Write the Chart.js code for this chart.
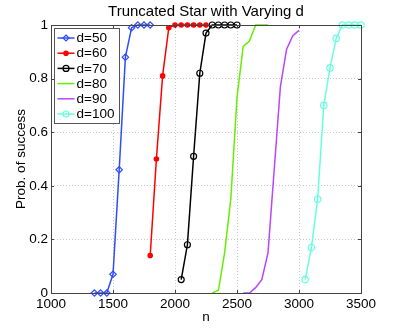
<!DOCTYPE html>
<html><head><meta charset="utf-8">
<script src="https://cdn.jsdelivr.net/npm/chart.js@4/dist/chart.umd.min.js"></script>
<style>html,body{margin:0;padding:0;background:#fff;}#wrap{width:399px;height:329px;}</style>
</head><body><div id="wrap"><canvas id="c" width="399" height="329"></canvas></div>
<script>
const chartTitle = "Truncated Star with Varying d";
const xLabel = "n";
const yLabel = "Prob. of success";
const seriesNames = ["d=50","d=60","d=70","d=80","d=90","d=100"];
const n50 = [1350,1400,1450,1500,1550,1600,1650,1700,1750,1800];
const p50 = [0,0,0,0.07,0.46,0.88,0.99,1,1,1];
const n60 = [1800,1850,1900,1950,2000,2050,2100,2150,2200,2250];
const p60 = [0.14,0.50,0.81,0.99,1,1,1,1,1,1];
const n70 = [2050,2100,2150,2200,2250,2300,2350,2400,2450,2500];
const p70 = [0.05,0.18,0.51,0.82,0.97,1,1,1,1,1];
const n80 = [2300,2350,2400,2450,2500,2550,2600,2650,2700,2750];
const p80 = [0,0.01,0.15,0.35,0.73,0.92,0.94,1,1,1];
const n90 = [2550,2600,2650,2700,2750,2800,2850,2900,2950,3000];
const p90 = [0,0,0.02,0.05,0.15,0.46,0.77,0.91,0.96,0.98];
const n100 = [3050,3100,3150,3200,3250,3300,3350,3400,3450,3500];
const p100 = [0.05,0.17,0.35,0.70,0.84,0.95,1,1,1,1];
const xTicks = [1000,1500,2000,2500,3000,3500];
const yTicks = [0,0.2,0.4,0.6,0.8,1];

const FONT = "'Liberation Sans', Arial, Helvetica, sans-serif";
const colors = ['#2f4dff','#ff0000','#000000','#66ee00','#bb44ff','#66ffdd'];
const styles = ['rectRot','circle','circle',false,false,'circle'];
const radii = [3.2,2.2,3,0,0,3.2];
const fills = [false,true,false,false,false,false];
const xs = [n50,n60,n70,n80,n90,n100];
const ys = [p50,p60,p70,p80,p90,p100];

const datasets = seriesNames.map((name,i)=>({
  label: name,
  data: xs[i].map((x,j)=>({x:x,y:ys[i][j]})),
  borderColor: colors[i],
  backgroundColor: fills[i] ? colors[i] : 'rgba(0,0,0,0)',
  pointBackgroundColor: fills[i] ? colors[i] : 'rgba(0,0,0,0)',
  pointBorderColor: colors[i],
  pointStyle: styles[i] || 'circle',
  pointRadius: radii[i],
  pointBorderWidth: 1.2,
  borderWidth: 1.5,
  tension: 0,
  fill: false,
  clip: false
}));

function drawMarker(ctx, style, x, y, r, color, filled){
  ctx.save();
  ctx.strokeStyle = color; ctx.fillStyle = color; ctx.lineWidth = 1.2;
  ctx.beginPath();
  if (style === 'rectRot') {
    ctx.moveTo(x, y-r); ctx.lineTo(x+r, y); ctx.lineTo(x, y+r); ctx.lineTo(x-r, y); ctx.closePath();
  } else {
    ctx.arc(x, y, r, 0, Math.PI*2);
  }
  if (filled) ctx.fill();
  ctx.stroke();
  ctx.restore();
}

const boxLegend = {
  id: 'boxLegend',
  afterDatasetsDraw(chart){
    const ctx = chart.ctx;
    const a = chart.chartArea;
    const L = a.left + 2.5, T = a.top + 3, W = 65, H = 95;
    ctx.save();
    ctx.fillStyle = '#fff';
    ctx.fillRect(L, T, W, H);
    ctx.strokeStyle = '#555'; ctx.lineWidth = 1;
    ctx.strokeRect(Math.round(L)+0.5, Math.round(T)+0.5, W, H);
    ctx.font = '13.5px ' + FONT;
    ctx.textBaseline = 'middle';
    ctx.textAlign = 'left';
    seriesNames.forEach((name,i)=>{
      const yy = T + 10 + i*15.2;
      ctx.strokeStyle = colors[i]; ctx.lineWidth = 1.5;
      ctx.beginPath(); ctx.moveTo(L+4, yy); ctx.lineTo(L+21, yy); ctx.stroke();
      if (styles[i]) drawMarker(ctx, styles[i], L+12.5, yy, Math.min(radii[i],3), colors[i], fills[i]);
      ctx.fillStyle = '#000';
      ctx.fillText(name, L+23, yy+0.5);
    });
    ctx.restore();
  }
};

const titlePlugin = {
  id: 'topTitle',
  afterDraw(chart){
    const ctx = chart.ctx; const a = chart.chartArea;
    ctx.save();
    ctx.font = '15px ' + FONT;
    ctx.fillStyle = '#000'; ctx.textAlign = 'center'; ctx.textBaseline = 'middle';
    ctx.fillText(chartTitle, (a.left + a.right)/2, 12);
    ctx.strokeStyle = '#444'; ctx.lineWidth = 1;
    ctx.strokeRect(Math.round(a.left)+0.5, Math.round(a.top)+0.5, Math.round(a.right-a.left), Math.round(a.bottom-a.top));
    const xs = chart.scales.x, ysc = chart.scales.y;
    ctx.beginPath();
    xTicks.forEach(v=>{ const px = Math.round(xs.getPixelForValue(v))+0.5;
      ctx.moveTo(px, a.bottom); ctx.lineTo(px, a.bottom-3);
      ctx.moveTo(px, a.top); ctx.lineTo(px, a.top+3); });
    yTicks.forEach(v=>{ const py = Math.round(ysc.getPixelForValue(v))+0.5;
      ctx.moveTo(a.left, py); ctx.lineTo(a.left+3, py);
      ctx.moveTo(a.right, py); ctx.lineTo(a.right-3, py); });
    ctx.stroke();
    ctx.restore();
  }
};

new Chart(document.getElementById('c'), {
  type: 'line',
  data: { datasets: datasets },
  options: {
    responsive: false,
    animation: false,
    layout: { padding: { left: 0, top: 25, right: 38, bottom: 0 } },
    plugins: { legend: { display: false }, tooltip: { enabled: false }, title: { display: false } },
    scales: {
      x: {
        type: 'linear', min: 1000, max: 3500,
        afterBuildTicks(s){ s.ticks = xTicks.map(v=>({value:v})); },
        afterFit(s){ s.height = 36; },
        grid: { color: '#c8c8c8', lineWidth: 1, borderDash: [1,2], drawTicks: false },
        border: { display: false, dash: [1,2] },
        ticks: { color: '#000', font: { family: FONT, size: 13.5 }, padding: 3, maxRotation: 0, autoSkip: false, callback: v => String(v) },
        title: { display: true, text: xLabel, color: '#000', font: { family: FONT, size: 13.5 }, padding: { top: 0, bottom: 4 } }
      },
      y: {
        type: 'linear', min: 0, max: 1,
        afterBuildTicks(s){ s.ticks = yTicks.map(v=>({value:v})); },
        afterFit(s){ s.width = 51; },
        grid: { color: '#c8c8c8', lineWidth: 1, borderDash: [1,2], drawTicks: false },
        border: { display: false, dash: [1,2] },
        ticks: { color: '#000', font: { family: FONT, size: 13.5 }, padding: 3, callback: v => String(Math.round(v*10)/10) },
        title: { display: true, text: yLabel, color: '#000', font: { family: FONT, size: 13.5 }, padding: { top: 13, bottom: 0 } }
      }
    }
  },
  plugins: [boxLegend, titlePlugin]
});
</script></body></html>
